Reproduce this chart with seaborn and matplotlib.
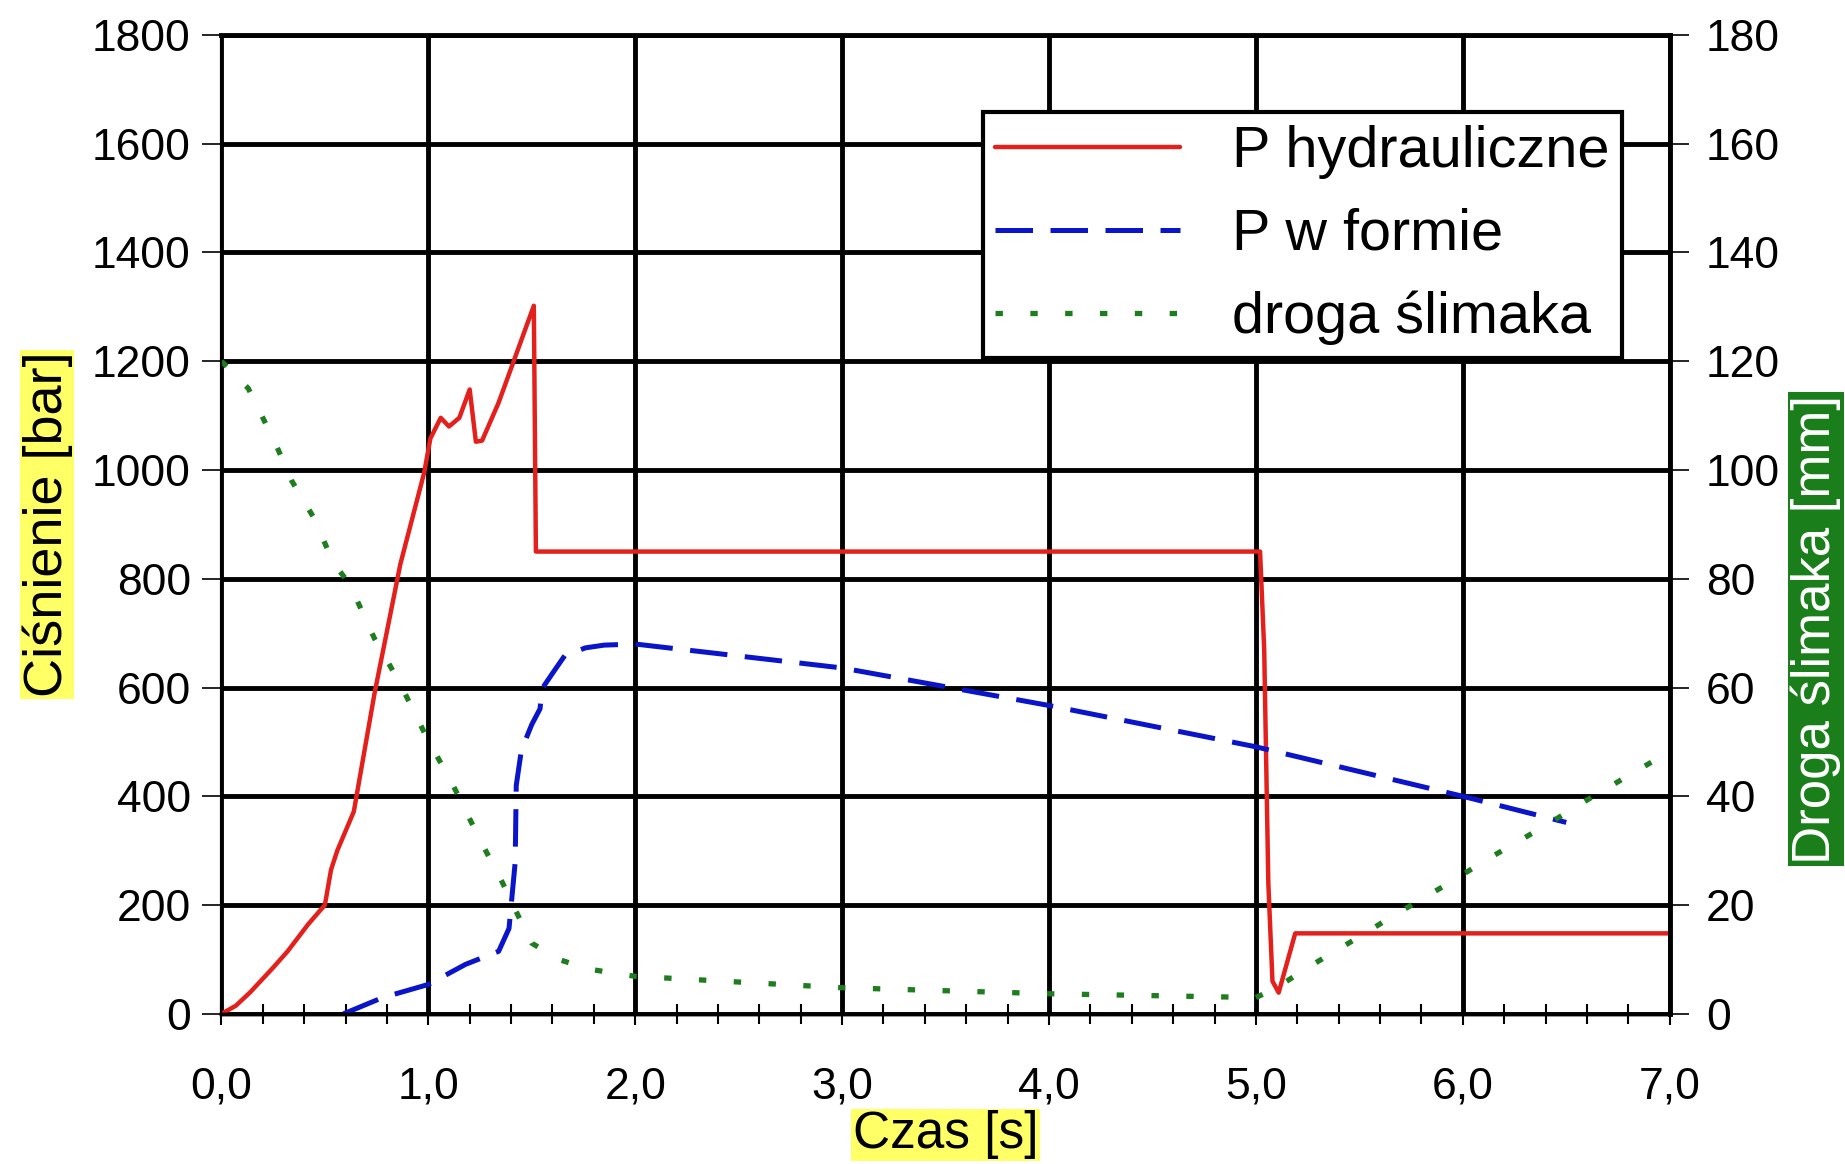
import matplotlib
matplotlib.use("Agg")
import matplotlib.pyplot as plt
import matplotlib.ticker as mticker
import numpy as np
import pandas as pd
import seaborn as sns

# Values
t_hydr = [0.0, 0.07, 0.14, 0.25, 0.32, 0.42, 0.50, 0.53, 0.56, 0.64, 0.74, 0.865, 0.98, 1.01, 1.06, 1.10, 1.15,
          1.20, 1.23, 1.26, 1.34, 1.51, 1.52, 2.0, 3.0, 4.0, 5.0, 5.02, 5.04, 5.06, 5.08, 5.11, 5.19, 6.0, 7.0]
p_hydr = [0, 15, 40, 85, 115, 165, 200, 265, 300, 372, 589, 827, 995, 1058, 1096, 1080, 1096,
          1148, 1052, 1054, 1124, 1302, 850, 850, 850, 850, 850, 850, 670, 240, 60, 39, 148, 148, 148]

t_form = [0.59, 0.78, 1.0, 1.18, 1.34, 1.39, 1.42, 1.425, 1.45, 1.50, 1.54, 1.55, 1.60, 1.66, 1.76,
          1.85, 2.0, 3.0, 4.0, 5.0, 6.0, 6.5]
p_form = [0, 30, 54, 91, 115, 157, 279, 420, 485, 532, 561, 598, 626, 659, 673,
          678, 680, 636, 567, 491, 400, 352]

t_droga = [0.0, 0.13, 0.26, 0.34, 0.45, 0.54, 0.62, 0.74, 0.86, 0.99, 1.12, 1.25, 1.36, 1.44, 1.50,
           1.63, 1.78, 2.0, 3.0, 4.0, 5.0, 5.10, 5.25, 5.47, 5.68, 5.90, 6.14, 6.39, 6.63, 6.98]
s_droga = [120, 115, 105, 98, 91, 83, 79, 69, 61, 51, 42, 32, 24, 17.6, 13,
           10, 8.2, 6.9, 4.8, 3.7, 3.0, 4.8, 8.5, 13.5, 18.4, 23.3, 28.9, 34.4, 40, 47.8]

x_ticks = np.arange(0, 8, 1)
x_labels = ["0,0", "1,0", "2,0", "3,0", "4,0", "5,0", "6,0", "7,0"]

hydr = pd.DataFrame({"t": t_hydr, "p": p_hydr})
forma = pd.DataFrame({"t": t_form, "p": p_form})
droga = pd.DataFrame({"t": t_droga, "s": s_droga})

sns.set_theme(style="white")
plt.rcParams["font.family"] = ["Liberation Sans", "DejaVu Sans"]
plt.rcParams["text.color"] = "black"
plt.rcParams["axes.labelcolor"] = "black"
plt.rcParams["xtick.color"] = "black"
plt.rcParams["ytick.color"] = "black"

fig = plt.figure(figsize=(18.45, 11.64), dpi=100)
ax = fig.add_axes([0.120, 0.129, 0.785, 0.841])
ax2 = ax.twinx()

sns.lineplot(data=hydr, x="t", y="p", ax=ax, color="#e3201b", lw=3.2, label="P hydrauliczne", legend=False)
sns.lineplot(data=forma, x="t", y="p", ax=ax, color="#0a14c8", lw=3.6, label="P w formie", legend=False,
             linestyle=(0, (7.5, 3.5)))
sns.lineplot(data=droga, x="t", y="s", ax=ax2, color="#1e7d1e", lw=3.8, label="droga ślimaka", legend=False,
             linestyle=(0, (1.4, 5.2)))

ax.set_xlim(0, 7)
ax.set_ylim(0, 1800)
ax2.set_ylim(0, 180)
ax.set_xticks(x_ticks)
ax.set_xticklabels(x_labels)
ax.xaxis.set_minor_locator(mticker.MultipleLocator(0.2))
ax.set_yticks(np.arange(0, 1801, 200))
ax2.set_yticks(np.arange(0, 181, 20))

ax.grid(True, which="major", color="black", lw=3.5)
ax.tick_params(axis="x", which="major", bottom=True, direction="inout", length=16, width=1.5,
               labelsize=32, pad=30)
ax.tick_params(axis="x", which="minor", bottom=True, direction="inout", length=14, width=1.5)
ax.tick_params(axis="y", left=True, direction="out", length=14, width=1.2, labelsize=32, pad=8)
ax2.tick_params(axis="y", right=True, direction="out", length=14, width=1.2, labelsize=32, pad=12)

for a in (ax, ax2):
    for side in ("top", "right"):
        a.spines[side].set_visible(False)
    a.spines["left"].set_color("black")
    a.spines["left"].set_linewidth(1.5)
    a.spines["bottom"].set_color("black")
    a.spines["bottom"].set_linewidth(2.5)
ax2.spines["right"].set_visible(True)
ax2.spines["right"].set_color("black")
ax2.spines["right"].set_linewidth(3.5)
ax.spines["top"].set_visible(True)
ax.spines["top"].set_color("black")
ax.spines["top"].set_linewidth(3.5)

ax.set_xlabel("Czas [s]", fontsize=37, labelpad=2,
              bbox=dict(facecolor="#ffff66", edgecolor="none", pad=1))
ax.set_ylabel("Ciśnienie [bar]", fontsize=39, labelpad=14,
              bbox=dict(facecolor="#ffff66", edgecolor="none", pad=1))
ax2.set_ylabel("Droga ślimaka [mm]", fontsize=38, color="white",
               bbox=dict(facecolor="#1a7f1a", edgecolor="none", pad=2))
ax2.yaxis.set_label_coords(1.101, 0.393)
ax2.yaxis.label.set_ha("center")
ax2.yaxis.label.set_va("center")
ax2.yaxis.label.set_rotation_mode("anchor")

handles = ax.get_lines()[:2] + ax2.get_lines()[:1]
leg = ax2.legend(handles, [h.get_label() for h in handles], loc="upper left",
                 bbox_to_anchor=(0.5256, 0.921), borderaxespad=0, fontsize=41.5, frameon=True,
                 fancybox=False, handlelength=3.2, handletextpad=0.9, labelspacing=0.5,
                 borderpad=0.22)
leg.get_frame().set_edgecolor("black")
leg.get_frame().set_linewidth(3)
leg.get_frame().set_alpha(1)

fig.savefig("out.png", dpi=100)
